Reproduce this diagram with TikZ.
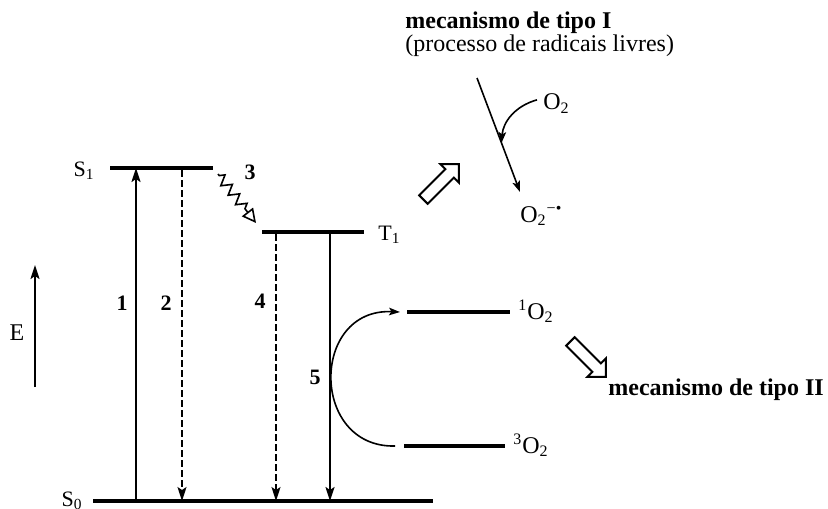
\documentclass[tikz,border=0pt]{standalone}
\usepackage{fontspec}
\setmainfont{Liberation Serif}
\usepackage{tikz}
\usetikzlibrary{arrows.meta, positioning, calc, shapes.arrows, decorations.pathmorphing}
\tikzset{
level/.style={
line width=2pt
},
radiative/.style={
-{Stealth[length=7pt,width=4.5pt,inset=1.5pt]},
line width=1pt
},
nonradiative/.style={
radiative,
line width=0.8pt,
dash pattern=on 3.5pt off 1.5pt
},
thinarrow/.style={
-{Stealth[length=5.5pt,width=3.8pt,inset=1.2pt]},
line width=0.8pt
},
steplabel/.style={
font=\fontsize{11}{13}\selectfont\bfseries
},
statelabel/.style={
font=\fontsize{11}{13}\selectfont,
inner sep=0pt
},
speclabel/.style={
font=\fontsize{12}{14}\selectfont,
inner sep=0pt
},
mechtitle/.style={
font=\fontsize{12}{14}\selectfont\bfseries,
inner sep=0pt
},
hollowarrow/.style={
single arrow,
draw,
fill=white,
line width=1pt,
minimum height=25pt,
single arrow head extend=3.5pt,
single arrow tip angle=90,
inner sep=2.5pt
}
}

\begin{document}
\begin{tikzpicture}[x=0.5pt, y=-0.5pt]
\useasboundingbox (0,0) rectangle (828,508);

% energy levels
\coordinate (s1L) at (110,168);
\coordinate (s1R) at (213,168);
\coordinate (s0L) at (93,501);
\coordinate (s0R) at (433,501);
\coordinate (t1L) at (262,232);
\coordinate (t1R) at (364,232);
\coordinate (o1L) at (407,312);
\coordinate (o1R) at (510,312);
\coordinate (o3L) at (404,446);
\coordinate (o3R) at (505,446);
\foreach \a/\b in {s1L/s1R, s0L/s0R, t1L/t1R, o1L/o1R, o3L/o3R} {
  \draw[level] (\a) -- (\b);
}

\node[statelabel, anchor=base east] (s1lab) at ([xshift=-7.5pt,yshift=-4pt]s1L) {S\textsubscript{1}};
\node[statelabel, anchor=base east] (s0lab) at ([xshift=-5pt,yshift=-2.5pt]s0L) {S\textsubscript{0}};
\node[statelabel, anchor=base west] (t1lab) at ([xshift=7pt,yshift=-4pt]t1R) {T\textsubscript{1}};
\node[speclabel, anchor=base west] (o1lab) at ([xshift=4pt,yshift=-3.5pt]o1R) {\textsuperscript{1}O\textsubscript{2}};
\node[speclabel, anchor=base west] (o3lab) at ([xshift=4pt,yshift=-3.5pt]o3R) {\textsuperscript{3}O\textsubscript{2}};

% energy axis
\coordinate (ebot) at (35,387);
\coordinate (etop) at (35,265);
\draw[radiative] (ebot) -- (etop);
\node[speclabel] (elab) at (17,333) {E};

% transitions 1, 2, 4, 5
\foreach \name/\x in {one/136, two/182, four/276, five/330} {
  \coordinate (x\name) at (\x,0);
}
\draw[radiative] (xone |- s0L) -- (xone |- s1L);
\draw[nonradiative] ([yshift=-1pt]xtwo |- s1L) -- (xtwo |- s0L);
\draw[nonradiative] ([yshift=-1pt]xfour |- t1L) -- (xfour |- s0L);
\draw[radiative] ([yshift=-1pt]xfive |- t1L) -- (xfive |- s0L);

\node[steplabel] (lab1) at (122,303) {1};
\node[steplabel] (lab2) at (166,303) {2};
\node[steplabel] (lab4) at (260,301) {4};
\node[steplabel] (lab5) at (315,377) {5};

% intersystem crossing 3
\coordinate (iscA) at (218,174);
\coordinate (iscB) at (256,223);
\draw[line width=0.8pt, -{Triangle[open,length=7pt,width=7pt]},
      decorate, decoration={zigzag, segment length=6pt, amplitude=2.5pt, pre length=1pt, post length=7pt}]
  (iscA) -- (iscB);
\node[steplabel] (lab3) at (250,172) {3};

% energy transfer to oxygen
\coordinate (c5a) at ([xshift=-4.5pt]o3L);
\coordinate (c5b) at ([xshift=-3.5pt]o1L);
\draw[thinarrow] (c5a) .. controls (310,448) and (310,308) .. (c5b);

% type I branch
\node[hollowarrow, rotate=45] (toI) at (439,184) {};
\node[speclabel, anchor=north west, align=left, font=\fontsize{12}{10.5}\selectfont]
  (tipoI) at (405,11) {\textbf{mecanismo de tipo I}\\(processo de radicais livres)};
\node[speclabel, anchor=base west] (otwo) at (543,110) {O\textsubscript{2}};
\node[speclabel, anchor=base west] (superox) at (520,222) {O\textsubscript{2}\textsuperscript{−•}};
\coordinate (radtail) at (477,78);
\coordinate (radtip) at (520,192);
\draw[thinarrow] (radtail) -- (radtip);
\coordinate (hit) at ($(radtail)!0.57!(radtip)$);
\draw[thinarrow] ([xshift=-3pt,yshift=2pt]otwo.west) .. controls (515,106) and (503,122) .. (hit);

% type II branch
\node[hollowarrow, rotate=-45] (toII) at (586,357) {};
\node[mechtitle, anchor=base west] (tipoII) at (608,395) {mecanismo de tipo II};

\end{tikzpicture}
\end{document}
